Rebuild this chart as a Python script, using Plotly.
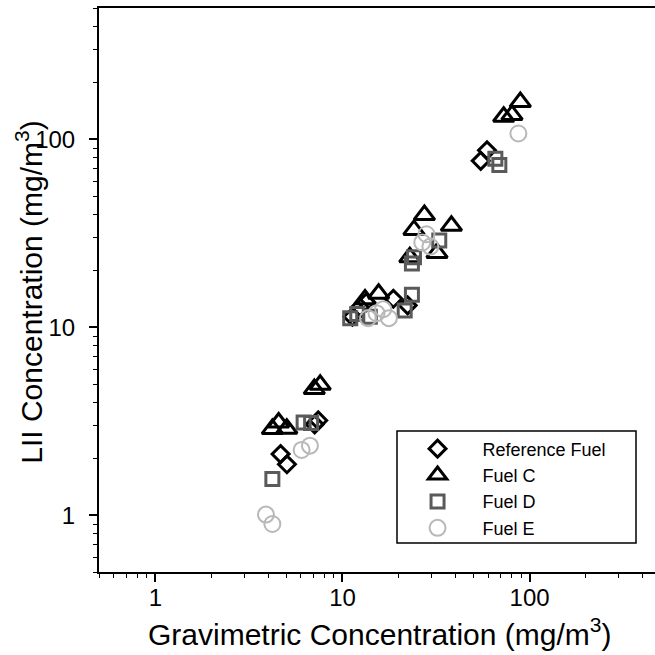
import numpy as np
import plotly.graph_objects as go

# Gravimetric (x) vs LII (y) soot concentration, mg/m^3
ref_x = [4.67, 5.05, 7.42, 7.1, 11.3, 12.4, 13.4, 18.7, 22.3, 59.2, 54.8]
ref_y = [2.12, 1.87, 3.2, 3.05, 11.4, 12.8, 13.6, 14.2, 13.1, 87.5, 76.9]

fuelc_x = [4.22, 4.56, 5.04, 7.07, 7.6, 13.2, 15.6, 22.9, 24.1, 27.4, 32.0, 38.2, 72.7, 80.5, 89.2]
fuelc_y = [2.88, 3.12, 2.89, 4.7, 4.95, 14.1, 15.1, 23.6, 33.0, 39.6, 24.9, 34.7, 132, 135, 158]

fueld_x = [4.22, 6.2, 6.8, 11.0, 12.0, 14.0, 21.5, 23.5, 23.5, 24.1, 32.9, 65.6, 68.9]
fueld_y = [1.56, 3.12, 3.1, 11.2, 11.8, 11.4, 12.3, 14.9, 21.9, 23.6, 29.0, 79.0, 73.0]

fuele_x = [3.9, 4.22, 6.05, 6.7, 13.7, 15.2, 17.7, 16.5, 26.7, 28.1, 29.5, 87.1]
fuele_y = [1.01, 0.90, 2.23, 2.35, 11.2, 11.9, 11.2, 12.5, 28.3, 31.3, 26.9, 107.5]

major_ticks = [1, 10, 100]
major_labels = ["1", "10", "100"]

FONT = "Liberation Sans, Arial, sans-serif"

# plot area in pixels: left 99, right 655, top 8, bottom 572
PL, PR, PT, PB = 99, 655, 8, 572


def px_to_paper(px, py):
    return (px - PL) / (PR - PL), (PB - py) / (PB - PT)


fig = go.Figure()

fig.add_trace(go.Scatter(
    x=ref_x, y=ref_y, mode="markers", name="Reference Fuel",
    marker=dict(symbol="diamond-open", size=13, color="black",
                line=dict(width=3, color="black")),
))
fig.add_trace(go.Scatter(
    x=fuelc_x, y=fuelc_y, mode="markers", name="Fuel C",
    marker=dict(symbol="triangle-up-open", size=18, color="black",
                line=dict(width=3, color="black")),
))
fig.add_trace(go.Scatter(
    x=fueld_x, y=fueld_y, mode="markers", name="Fuel D",
    marker=dict(symbol="square-open", size=13, color="#5a5a5a",
                line=dict(width=3, color="#5a5a5a")),
))
fig.add_trace(go.Scatter(
    x=fuele_x, y=fuele_y, mode="markers", name="Fuel E",
    marker=dict(symbol="circle-open", size=16, color="#b8b8b8",
                line=dict(width=2, color="#b8b8b8")),
))

axis_common = dict(
    type="log",
    tickvals=major_ticks,
    ticktext=major_labels,
    ticks="outside",
    ticklen=8,
    tickwidth=2,
    tickcolor="black",
    showline=True,
    linecolor="black",
    linewidth=2,
    showgrid=False,
    zeroline=False,
    tickfont=dict(family=FONT, size=24, color="black"),
    minor=dict(ticks="outside", ticklen=4, tickwidth=1, tickcolor="black",
               dtick="D1", showgrid=False),
)

# legend frame
lx0, ly0 = px_to_paper(397, 543)
lx1, ly1 = px_to_paper(636, 431)

fig.update_layout(
    width=655, height=655,
    margin=dict(l=PL, r=655 - PR, t=PT, b=655 - PB),
    paper_bgcolor="white",
    plot_bgcolor="white",
    font=dict(family=FONT, color="black"),
    xaxis=dict(axis_common, range=[np.log10(0.5), 2.67], mirror=True,
               ticklabelstandoff=-5),
    yaxis=dict(axis_common, range=[np.log10(0.5), np.log10(500)],
               ticklabelstandoff=9),
    showlegend=True,
    legend=dict(
        x=lx0 - 0.008, y=ly1 + 0.001, xanchor="left", yanchor="top",
        bgcolor="rgba(0,0,0,0)", borderwidth=0,
        font=dict(family=FONT, size=18, color="black"),
        itemwidth=80, tracegroupgap=0,
    ),
    shapes=[
        dict(type="rect", xref="paper", yref="paper",
             x0=lx0, y0=ly0, x1=lx1, y1=ly1,
             line=dict(color="black", width=1.5), fillcolor="white",
             layer="above"),
    ],
    annotations=[
        dict(text="Gravimetric Concentration (mg/m<sup>3</sup>)",
             xref="paper", yref="paper", x=0.505, y=-0.107,
             xanchor="center", yanchor="middle", showarrow=False,
             font=dict(family=FONT, size=30, color="black")),
        dict(text="LII Concentration (mg/m<sup>3</sup>)",
             xref="paper", yref="paper", x=-0.125, y=0.496,
             xanchor="center", yanchor="middle", showarrow=False,
             textangle=-90,
             font=dict(family=FONT, size=30, color="black")),
    ],
)

fig.write_html("out.html")
